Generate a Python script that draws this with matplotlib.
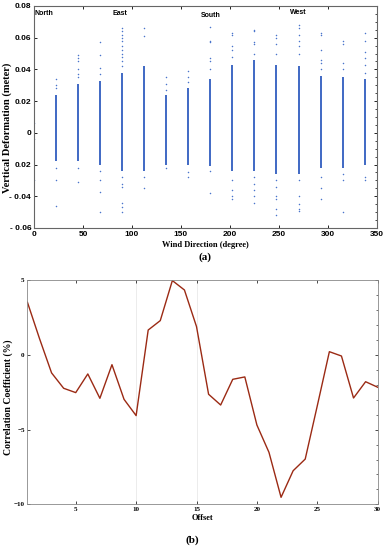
import numpy as np
import matplotlib.pyplot as plt
from matplotlib.ticker import AutoMinorLocator

# (a) wind direction vs vertical deformation
directions = [0, 22.5, 45, 67.5, 90, 112.5, 135, 157.5, 180, 202.5, 225, 247.5, 270, 292.5, 315, 337.5]
dense_hi = [0.0, 0.024, 0.031, 0.033, 0.038, 0.042, 0.024, 0.028, 0.034, 0.043, 0.046, 0.043, 0.042, 0.036, 0.035, 0.034]
dense_lo = [0.0, -0.018, -0.018, -0.020, -0.024, -0.024, -0.020, -0.020, -0.021, -0.024, -0.024, -0.026, -0.026, -0.022, -0.022, -0.020]
outliers = [
    [0.006, -0.004, -0.03],
    [0.034, 0.030, 0.028, -0.022, -0.030, -0.046],
    [0.049, 0.047, 0.045, 0.040, 0.037, 0.035, -0.022, -0.031],
    [0.057, 0.049, 0.041, 0.037, -0.024, -0.030, -0.037, -0.050],
    [0.066, 0.064, 0.062, 0.060, 0.058, 0.055, 0.052, 0.050, 0.048, 0.045, 0.042,
     -0.028, -0.032, -0.034, -0.044, -0.047, -0.050],
    [0.066, 0.061, -0.028, -0.035],
    [0.035, 0.031, 0.027, -0.022],
    [0.039, 0.035, 0.032, -0.025, -0.028],
    [0.067, 0.058, 0.057, 0.047, 0.045, 0.040, -0.024, -0.038],
    [0.063, 0.062, 0.055, 0.052, 0.048, -0.030, -0.036, -0.040, -0.042],
    [0.065, 0.064, 0.057, 0.056, 0.050, -0.028, -0.032, -0.036, -0.040, -0.044],
    [0.062, 0.060, 0.056, 0.050, -0.030, -0.034, -0.040, -0.042, -0.048, -0.052],
    [0.068, 0.066, 0.062, 0.058, 0.055, 0.050, -0.030, -0.040, -0.045, -0.048, -0.049],
    [0.063, 0.062, 0.052, 0.046, 0.044, 0.040, -0.028, -0.035, -0.042],
    [0.058, 0.056, 0.044, 0.040, -0.026, -0.030, -0.050],
    [0.063, 0.058, 0.051, 0.047, 0.043, 0.038, -0.028, -0.030],
]
compass = ["North", "East", "South", "West"]
compass_x = [0.5, 88, 180, 270]
compass_y = [0.075, 0.075, 0.074, 0.076]

# (b) correlation coefficient vs offset
offset = list(range(1, 31))
corr = [3.53, 1.1, -1.2, -2.23, -2.52, -1.27, -2.9, -0.65, -2.97, -4.06,
        1.67, 2.3, 4.98, 4.35, 1.9, -2.63, -3.35, -1.63, -1.47, -4.69,
        -6.52, -9.53, -7.75, -6.97, -3.4, 0.22, -0.07, -2.88, -1.79, -2.16]

serif = "Liberation Serif"
sans = "Liberation Sans"

fig = plt.figure(figsize=(3.85, 5.5), dpi=100)

ax1 = fig.add_axes([0.0883, 0.5855, 0.8907, 0.4036])
for i, d in enumerate(directions):
    if dense_hi[i] > dense_lo[i]:
        ax1.vlines(d, dense_lo[i], dense_hi[i], color="#3f68c4", lw=1.4)
    ax1.scatter([d] * len(outliers[i]), outliers[i], s=1.2, color="#4a74cc", lw=0)
for name, cx, cy in zip(compass, compass_x, compass_y):
    ax1.text(cx, cy, name, fontsize=5, fontweight="bold", family=sans,
             ha="center" if name != "North" else "left", va="center")
ax1.set_xlim(0, 350)
ax1.set_ylim(-0.06, 0.08)
ax1.set_xticks(np.arange(0, 351, 50))
ax1.set_yticks(np.arange(-0.06, 0.081, 0.02))
ax1.set_yticklabels(["- 0.06", "- 0.04", "0.02", "0", "0.02", "0.04", "0.06", "0.08"])
for lab in ax1.get_xticklabels() + ax1.get_yticklabels():
    lab.set_fontfamily(sans)
    lab.set_fontweight("bold")
    lab.set_fontsize(6)
ax1.tick_params(direction="in", length=2, width=0.6, top=True, right=True, pad=2)
ax1.yaxis.set_minor_locator(AutoMinorLocator(4))
ax1.tick_params(which="minor", direction="in", length=1.2, width=0.5, left=False, right=True)
for s in ax1.spines.values():
    s.set_color("#666666")
    s.set_linewidth(0.8)
ax1.set_xlabel("Wind Direction (degree)", family=serif, fontweight="bold", fontsize=6, labelpad=2)
ax1.set_ylabel("Vertical Deformation (meter)", family=serif, fontweight="bold", fontsize=7.6)
ax1.yaxis.set_label_coords(-0.063, 0.45)
fig.text(0.532, 1 - 257 / 550, "(a)", family=serif, fontweight="bold", fontsize=8, ha="center", va="center")

ax2 = fig.add_axes([0.0712, 0.083, 0.9098, 0.4074])
for gx in [10, 15]:
    ax2.axvline(gx, color="#e4e4e4", lw=0.5, zorder=0)
ax2.plot(offset, corr, color="#9b2a14", lw=1.0)
ax2.set_xlim(1, 30)
ax2.set_ylim(-10, 5)
ax2.set_xticks([5, 10, 15, 20, 25, 30])
ax2.set_yticks([-10, -5, 0, 5])
ax2.set_yticklabels(["\u221210", "\u22125", "0", "5"])
for lab in ax2.get_xticklabels() + ax2.get_yticklabels():
    lab.set_fontfamily(serif)
    lab.set_fontweight("bold")
    lab.set_fontsize(5)
ax2.tick_params(direction="in", length=2, width=0.5, top=True, right=True, pad=2)
ax2.yaxis.set_minor_locator(AutoMinorLocator(5))
ax2.tick_params(which="minor", direction="in", length=1.2, width=0.4, left=False, right=True)
for s in ax2.spines.values():
    s.set_color("#888888")
    s.set_linewidth(0.6)
ax2.set_xlabel("Offset", family=serif, fontweight="bold", fontsize=6, labelpad=1)
ax2.set_ylabel("Correlation Coefficient (%)", family=serif, fontweight="bold", fontsize=7)
ax2.yaxis.set_label_coords(-0.0425, 0.478)
fig.text(0.5, 1 - 540 / 550, "(b)", family=serif, fontweight="bold", fontsize=8, ha="center", va="center")

fig.savefig("out.png", dpi=100)
